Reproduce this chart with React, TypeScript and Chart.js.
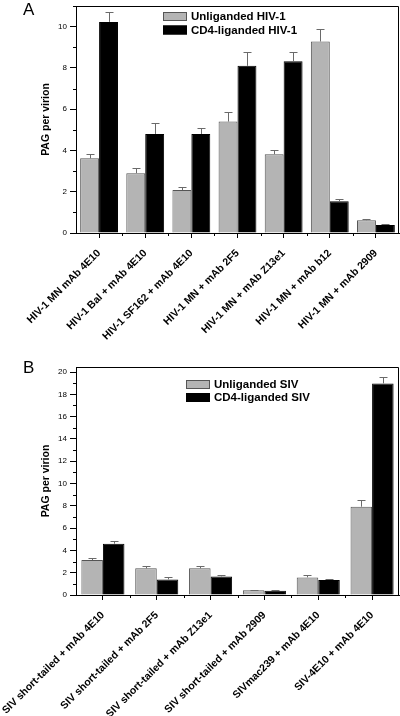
import React, { useEffect, useRef } from "react";
import { Chart, registerables } from "chart.js";
Chart.register(...registerables);

const FONT = '"Liberation Sans", Arial, Helvetica, sans-serif';

// ---- Panel A data ----
const categoriesA = [
  "HIV-1 MN mAb 4E10",
  "HIV-1 Bal + mAb 4E10",
  "HIV-1 SF162 + mAb 4E10",
  "HIV-1 MN + mAb 2F5",
  "HIV-1 MN + mAb Z13e1",
  "HIV-1 MN + mAb b12",
  "HIV-1 MN + mAb 2909",
];
const unligandedA = [3.62, 2.9, 2.08, 5.4, 3.82, 9.28, 0.62];
const unligandedErrA = [0.2, 0.24, 0.14, 0.46, 0.19, 0.62, 0.05];
const ligandedA = [10.23, 4.8, 4.8, 8.1, 8.32, 1.54, 0.39];
const ligandedErrA = [0.47, 0.54, 0.3, 0.67, 0.46, 0.12, 0.03];
const seriesLabelsA = ["Unliganded HIV-1", "CD4-liganded HIV-1"];
const yTicksA = [0, 2, 4, 6, 8, 10];

// ---- Panel B data ----
const categoriesB = [
  "SIV short-tailed + mAb 4E10",
  "SIV short-tailed + mAb 2F5",
  "SIV short-tailed + mAb Z13e1",
  "SIV short-tailed + mAb 2909",
  "SIVmac239 + mAb 4E10",
  "SIV-4E10 + mAb 4E10",
];
const unligandedB = [3.14, 2.39, 2.39, 0.42, 1.58, 7.92];
const unligandedErrB = [0.14, 0.17, 0.17, 0.06, 0.17, 0.6];
const ligandedB = [4.6, 1.4, 1.67, 0.39, 1.35, 18.98];
const ligandedErrB = [0.21, 0.2, 0.1, 0.05, 0.08, 0.6];
const seriesLabelsB = ["Unliganded SIV", "CD4-liganded SIV"];
const yTicksB = [0, 2, 4, 6, 8, 10, 12, 14, 16, 18, 20];

const GRAY = "#b4b4b4";
const GRAY_BORDER = "#555555";

const errorBarPlugin = {
  id: "errorBars",
  afterDatasetsDraw(chart: any) {
    const ctx = chart.ctx;
    const y = chart.scales.y;
    chart.data.datasets.forEach((ds: any, di: number) => {
      const errs = ds.errors;
      if (!errs) return;
      const meta = chart.getDatasetMeta(di);
      meta.data.forEach((bar: any, i: number) => {
        const v = ds.data[i];
        const top = Math.round(y.getPixelForValue(v + errs[i])) + 0.5;
        const x = Math.round(bar.x) + 0.5;
        ctx.save();
        ctx.strokeStyle = "#6a6a6a";
        ctx.lineWidth = 1;
        ctx.beginPath();
        ctx.moveTo(x, bar.y);
        ctx.lineTo(x, top);
        ctx.moveTo(x - 4, top);
        ctx.lineTo(x + 4, top);
        ctx.stroke();
        ctx.restore();
      });
    });
  },
};

const framePlugin = {
  id: "frameAndMinor",
  afterDraw(chart: any) {
    const ctx = chart.ctx;
    const { left, right, top, bottom } = chart.chartArea;
    ctx.save();
    ctx.strokeStyle = "#000";
    ctx.lineWidth = 1;
    ctx.beginPath();
    ctx.moveTo(left, top + 0.5);
    ctx.lineTo(right - 0.5, top + 0.5);
    ctx.lineTo(right - 0.5, bottom);
    ctx.stroke();
    // minor y ticks halfway between major ticks
    const ys = chart.scales.y;
    const t = ys.ticks;
    ctx.beginPath();
    for (let i = 0; i < t.length; i++) {
      const v = t[i].value + (i < t.length - 1 ? (t[i + 1].value - t[i].value) / 2 : 1);
      if (v > ys.max) continue;
      const py = Math.round(ys.getPixelForValue(v)) + 0.5;
      ctx.moveTo(left - 3, py);
      ctx.lineTo(left, py);
    }
    // minor x ticks at category boundaries
    const xs = chart.scales.x;
    for (let i = 1; i < xs.ticks.length; i++) {
      const px = Math.round(xs.getPixelForValue(i - 0.5)) + 0.5;
      ctx.moveTo(px, bottom);
      ctx.lineTo(px, bottom + 3);
    }
    ctx.stroke();
    ctx.restore();
  },
};

const insideLegendPlugin = {
  id: "insideLegend",
  afterDraw(chart: any, _args: any, opts: any) {
    const ctx = chart.ctx;
    ctx.save();
    ctx.font = `bold ${opts.fontSize}px ${FONT}`;
    ctx.textBaseline = "middle";
    chart.data.datasets.forEach((ds: any, i: number) => {
      const y = opts.y + i * opts.gap;
      ctx.fillStyle = ds.backgroundColor;
      ctx.fillRect(opts.x, y, opts.boxW, opts.boxH);
      ctx.strokeStyle = ds.borderColor;
      ctx.lineWidth = 1;
      ctx.strokeRect(opts.x + 0.5, y + 0.5, opts.boxW - 1, opts.boxH - 1);
      ctx.fillStyle = "#000";
      ctx.fillText(ds.label, opts.x + opts.textOffset, y + opts.boxH / 2 + 0.5);
    });
    ctx.restore();
  },
};

type PanelProps = {
  width: number;
  height: number;
  categories: string[];
  labels: string[];
  unl: number[];
  unlErr: number[];
  lig: number[];
  ligErr: number[];
  yTicks: number[];
  yMax: number;
  padTop: number;
  xHeight: number;
  catPct: number;
  legend: any;
};

function Panel(p: PanelProps) {
  const ref = useRef<HTMLCanvasElement | null>(null);
  useEffect(() => {
    if (!ref.current) return;
    const chart = new Chart(ref.current, {
      type: "bar",
      data: {
        labels: p.categories,
        datasets: [
          {
            label: p.labels[0],
            data: p.unl,
            errors: p.unlErr,
            backgroundColor: GRAY,
            borderColor: GRAY_BORDER,
            borderWidth: 1,
            categoryPercentage: p.catPct,
            barPercentage: 1,
          } as any,
          {
            label: p.labels[1],
            data: p.lig,
            errors: p.ligErr,
            backgroundColor: "#000000",
            borderColor: "#000000",
            borderWidth: 1,
            categoryPercentage: p.catPct,
            barPercentage: 1,
          } as any,
        ],
      },
      options: {
        animation: false,
        responsive: false,
        devicePixelRatio: 1,
        layout: { padding: { top: p.padTop, left: 38, right: 1, bottom: 0 } },
        plugins: {
          legend: { display: false },
          tooltip: { enabled: false },
          insideLegend: p.legend,
        } as any,
        scales: {
          x: {
            type: "category",
            offset: true,
            grid: {
              display: true,
              drawOnChartArea: false,
              drawTicks: true,
              tickLength: 5,
              offset: false,
              color: "#000",
            },
            border: { display: true, color: "#000", width: 1 },
            ticks: {
              color: "#000",
              autoSkip: false,
              maxRotation: 45,
              minRotation: 45,
              padding: 9,
              font: { family: FONT, size: 10.5, weight: "bold" },
            },
            afterFit: (s: any) => {
              s.height = p.xHeight;
              s.paddingLeft = 0;
              s.paddingRight = 0;
            },
          },
          y: {
            type: "linear",
            min: 0,
            max: p.yMax,
            grid: {
              display: true,
              drawOnChartArea: false,
              drawTicks: true,
              tickLength: 6,
              color: "#000",
            },
            border: { display: true, color: "#000", width: 1 },
            ticks: {
              color: "#000",
              padding: 3,
              font: { family: FONT, size: 8 },
            },
            afterBuildTicks: (s: any) => {
              s.ticks = p.yTicks.map((v) => ({ value: v }));
            },
            title: {
              display: true,
              text: "PAG per virion",
              color: "#000",
              padding: { top: 2, bottom: 0 },
              font: { family: FONT, size: 10.5, weight: "bold" },
            },
            afterFit: (s: any) => {
              s.width = 38;
              s.paddingTop = 0;
              s.paddingBottom = 0;
            },
          },
        },
      } as any,
      plugins: [errorBarPlugin, framePlugin, insideLegendPlugin],
    });
    return () => chart.destroy();
  }, []);
  return (
    <canvas
      ref={ref}
      width={p.width}
      height={p.height}
      style={{ display: "block", width: p.width, height: p.height }}
    />
  );
}

export default function App() {
  useEffect(() => {
    document.body.style.margin = "0";
    document.body.style.background = "#fff";
  }, []);
  const letter: React.CSSProperties = {
    position: "absolute",
    left: 23,
    fontFamily: FONT,
    fontSize: 17,
    lineHeight: "19px",
    color: "#000",
  };
  return (
    <div style={{ position: "absolute", left: 0, top: 0, width: 400, height: 716, background: "#fff", overflow: "hidden" }}>
      <div style={{ position: "absolute", left: 0, top: 0 }}>
        <Panel
          width={400}
          height={360}
          categories={categoriesA}
          labels={seriesLabelsA}
          unl={unligandedA}
          unlErr={unligandedErrA}
          lig={ligandedA}
          ligErr={ligandedErrA}
          yTicks={yTicksA}
          yMax={11}
          padTop={6}
          xHeight={127}
          catPct={0.82}
          legend={{ x: 163, y: 12, boxW: 24, boxH: 9, gap: 13.5, textOffset: 28, fontSize: 11.5 }}
        />
      </div>
      <div style={{ position: "absolute", left: 0, top: 360 }}>
        <Panel
          width={400}
          height={356}
          categories={categoriesB}
          labels={seriesLabelsB}
          unl={unligandedB}
          unlErr={unligandedErrB}
          lig={ligandedB}
          ligErr={ligandedErrB}
          yTicks={yTicksB}
          yMax={20.45}
          padTop={7}
          xHeight={121}
          catPct={0.8}
          legend={{ x: 186, y: 20, boxW: 24, boxH: 9, gap: 13, textOffset: 28, fontSize: 11.5 }}
        />
      </div>
      <div style={{ ...letter, top: 0 }}>A</div>
      <div style={{ ...letter, top: 358 }}>B</div>
    </div>
  );
}
